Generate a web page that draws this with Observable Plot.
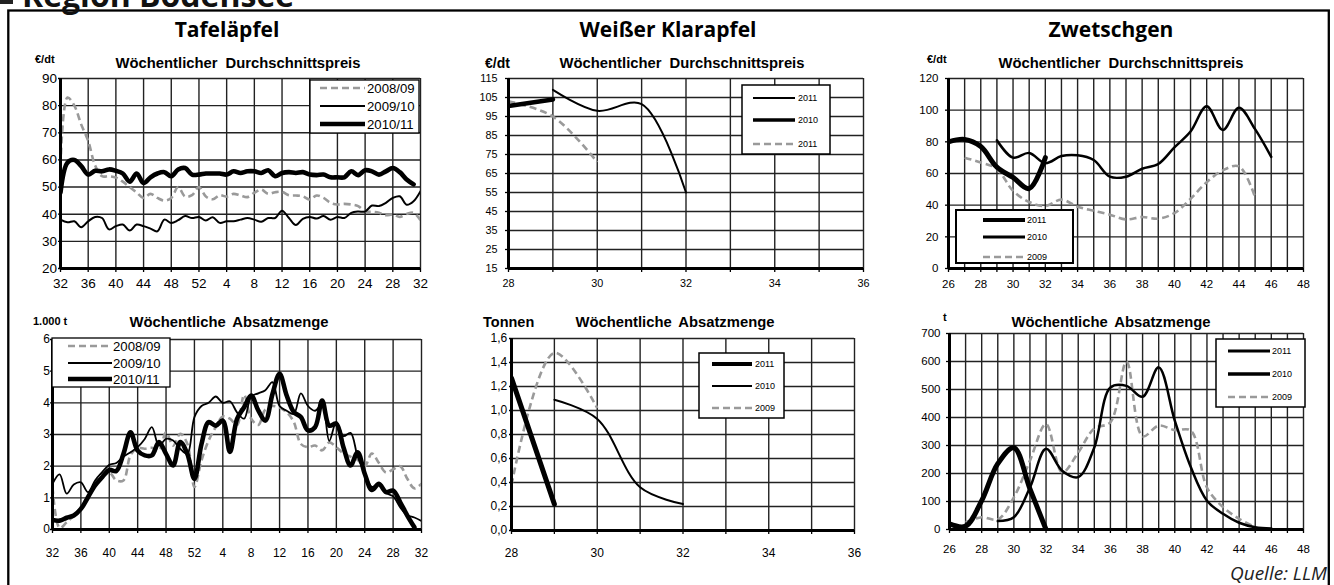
<!DOCTYPE html>
<html><head><meta charset="utf-8">
<script src="https://cdn.jsdelivr.net/npm/d3@7"></script>
<script src="https://cdn.jsdelivr.net/npm/@observablehq/plot@0.6"></script>
<style>
html,body{margin:0;padding:0;background:#fff;}
#root{position:relative;width:1334px;height:585px;overflow:hidden;background:#fff;}
#root svg{position:absolute;}
</style></head><body><div id="root"></div>
<script>
// ---------- DATA ----------
// Tafeläpfel: week positions 0..52 = KW 32 (2010) ... KW 32 (2011)
const tafelTicks = ["32","36","40","44","48","52","4","8","12","16","20","24","28","32"];
const tafelTickPos = [0,4,8,12,16,20,24,28,32,36,40,44,48,52];
const tafelPrice0809 = [58,83,80,73,67,58,54,54,53.5,52,50,48,46,47.5,46,45,46,50,46.5,47,50,46.5,45.5,47,46.5,47.5,46.9,46.3,47.9,49.1,47.5,48.1,48.2,47,46.9,46.6,45.4,46.9,46,44.2,43.6,43.8,43.6,43,41.1,40.9,40.5,39.6,39.9,39,40.1,40.5,37.8];
const tafelPrice0910 = [38,37,37.4,35.2,37.4,39,38.6,34.4,35.6,36.2,34,36.2,35.6,34.7,33.7,38,36.8,37.8,39.3,38.6,39,37.7,38.9,36.8,37.4,37.4,38,38.6,38,37.2,38.6,38.6,41.3,38.6,36,38.3,39,38.4,39.3,38,39,38.6,40.5,41,41,43.2,43,44.2,46,46.6,43.5,44.8,48.5];
const tafelPrice1011 = [48,59,60,57.7,54.6,56,55.8,56.5,56,55,52,55,51.5,53.6,55,55.5,54,56.5,57,54.6,54.6,55,55,55,54.6,55.8,55.2,55.8,55.8,55.2,56.2,54,55.2,55.5,55.2,55.5,54.6,54.4,54.6,53.6,53.6,53.6,55.8,54.4,56.2,55.8,54.6,55.8,57,55.5,52.8,51,null];
const tafelVol0809 = [1.34,0.05,0.23,0.44,0.7,1.07,1.44,1.76,1.81,1.55,1.55,2.35,2.57,2.55,2.58,2.49,3.07,2.65,3.02,2.71,1.34,2.18,2.81,3.23,3.57,3.5,3.3,4.25,3.5,3.3,3.8,3.9,3.85,3.7,3.4,2.7,2.6,2.65,2.5,2.75,2.6,2.4,2.3,2.2,2.0,2.4,2.1,1.8,1.9,2.0,1.6,1.3,1.45];
const tafelVol0910 = [1.44,1.74,1.13,1.42,1.49,1.18,1.55,1.81,2.04,2.1,2.3,2.44,2.6,2.86,3.23,2.65,2.86,2.81,2.55,2.39,3.55,3.9,4.0,4.2,4.0,4.05,3.7,3.5,4.2,4.3,4.4,4.65,3.9,3.75,3.65,4.3,3.9,3.75,3.95,2.8,3.4,2.95,3.05,2.3,1.8,1.35,1.4,1.15,1.05,0.7,0.45,0.38,0.27];
const tafelVol1011 = [0.3,0.28,0.37,0.44,0.65,1.02,1.39,1.65,1.88,1.85,2.39,3.07,2.49,2.34,2.34,2.76,2.39,2.02,2.76,2.39,1.6,2.7,3.39,3.28,3.44,2.45,3.49,3.86,4.23,3.76,3.44,4.28,4.92,4.23,3.71,3.55,3.13,3.23,4.07,3.28,3.34,2.6,2.02,2.44,1.76,1.25,1.44,1.18,1.23,0.86,0.44,0.07,null];
const tafelYTicksPrice = [20,30,40,50,60,70,80,90];
const tafelYTicksVol = [0,1,2,3,4,5,6];

// Weißer Klarapfel
const klarWeeks = [28,29,30,31,32,33,34,35,36];
const klarTickLabels = ["28","","30","","32","","34","","36"];
const klarPriceA_weeks = [29,30,31,32];
const klarPriceA = [109,98,101.5,55];        // "2011" thin
const klarPriceB_weeks = [28,29];
const klarPriceB = [100.5,104];              // "2010" thick
const klarPriceC_weeks = [28,29,30];
const klarPriceC = [103,95,71];              // "2011" dashed
const klarYTicksPrice = [15,25,35,45,55,65,75,85,95,105,115];
const klarVol2011_weeks = [28,29];
const klarVol2011 = [1.27,0.22];
const klarVol2010_weeks = [29,30,31,32];
const klarVol2010 = [1.09,0.93,0.36,0.22];
const klarVol2009_weeks = [28,29,30];
const klarVol2009 = [0.38,1.48,1.02];
const klarYTicksVol = [0,0.2,0.4,0.6,0.8,1.0,1.2,1.4,1.6];

// Zwetschgen
const zwWeeks = [26,27,28,29,30,31,32,33,34,35,36,37,38,39,40,41,42,43,44,45,46,47,48];
const zwTickLabels = ["26","","28","","30","","32","","34","","36","","38","","40","","42","","44","","46","","48"];
const zwPrice2011_weeks = [26,27,28,29,30,31,32];
const zwPrice2011 = [80,81.5,77,64,57.5,50.5,70];
const zwPrice2010_weeks = [29,30,31,32,33,34,35,36,37,38,39,40,41,42,43,44,45,46];
const zwPrice2010 = [81,70,73,66.5,71,71.5,68.5,58,58,63,66,76.5,86.5,102.5,87.5,101.5,88,70.5];
const zwPrice2009_weeks = [27,28,29,30,31,32,33,34,35,36,37,38,39,40,41,42,43,44,45];
const zwPrice2009 = [70,67,63,49,42,39.5,43.5,39,36.5,34,31,32.5,31.5,35,44,54.5,62,64.5,45];
const zwYTicksPrice = [0,20,40,60,80,100,120];
const zwVol2011_weeks = [26,27,28,29,30,31,32];
const zwVol2011 = [20,12,103,235,292,145,0];
const zwVol2010_weeks = [29,30,31,32,33,34,35,36,37,38,39,40,41,42,43,44,45,46];
const zwVol2010 = [30,44,150,288,210,187,293,507,513,474,579,389,222,103,56,24,8,4];
const zwVol2009_weeks = [27,28,29,30,31,32,33,34,35,36,37,38,39,40,41,42,43,44,45];
const zwVol2009 = [26,44,36,115,246,377,204,275,361,383,599,333,371,355,353,150,80,38,8];
const zwYTicksVol = [0,100,200,300,400,500,600,700];

// ---------- HELPERS ----------
const byIndex = arr => arr.map((v,i)=>({x:i,y:v})).filter(d=>d.y!=null);
const byWeeks = (w,arr) => w.map((x,i)=>({x, y:arr[i]}));
const THICK = {stroke:"#000", width:4.6};
const THIN = {stroke:"#000", width:2};
const DASH = {stroke:"#9a9a9a", width:2.6, dash:"7,4"};
const root = document.getElementById("root");

function drawPanel(c){
  const mL=50,mR=10,mT=10,mB=45;
  const marks = [
    Plot.gridX(c.xGrid,{stroke:"#222",strokeOpacity:1,strokeWidth:1.4}),
    Plot.gridY(c.yGrid,{stroke:"#222",strokeOpacity:1,strokeWidth:1.4})
  ];
  for(const s of c.series){
    marks.push(Plot.line(s.data,{x:"x",y:"y",stroke:s.st.stroke,strokeWidth:s.w||s.st.width,
      strokeDasharray:s.st.dash,curve:"catmull-rom",strokeLinejoin:"round",
      strokeLinecap:s.st.dash?"butt":"round",clip:true}));
  }
  marks.push(Plot.ruleX([c.xDomain[0]],{stroke:"#000",strokeWidth:3}));
  marks.push(Plot.ruleY([c.yDomain[0]],{stroke:"#000",strokeWidth:3}));
  marks.push(Plot.axisX(c.xTicks,{tickSize:4,tickPadding:c.xPad,tickFormat:c.xFmt,label:null,strokeWidth:1.3,fontSize:c.fs}));
  marks.push(Plot.axisY(c.yTicks,{tickSize:c.yTs,tickPadding:c.yPad,tickFormat:c.yFmt,label:null,strokeWidth:1.3,fontSize:c.fs}));
  const svg = Plot.plot({
    width:c.pw+mL+mR, height:c.ph+mT+mB,
    marginLeft:mL, marginRight:mR, marginTop:mT, marginBottom:mB,
    x:{domain:c.xDomain,label:null}, y:{domain:c.yDomain,label:null},
    style:{fontFamily:"'Liberation Sans', Arial, sans-serif",color:"#000",background:"transparent",overflow:"visible"},
    marks
  });
  svg.style.left=(c.px-mL)+"px"; svg.style.top=(c.py-mT)+"px";
  svg.style.maxWidth="none";
  root.appendChild(svg);
}

// ---------- PANELS ----------
drawPanel({px:60,py:78,pw:360,ph:190,xDomain:[0,52],yDomain:[20,90],
  xGrid:tafelTickPos,yGrid:tafelYTicksPrice,xTicks:tafelTickPos,xFmt:d=>tafelTicks[tafelTickPos.indexOf(d)],
  yTicks:tafelYTicksPrice,yFmt:d=>String(d),fs:13.5,xPad:6.3,yTs:2,yPad:1.5,
  series:[{data:byIndex(tafelPrice0809),st:DASH},{data:byIndex(tafelPrice0910),st:THIN},{data:byIndex(tafelPrice1011),st:THICK}]});
drawPanel({px:52,py:339,pw:369,ph:190,xDomain:[0,52],yDomain:[0,6],
  xGrid:tafelTickPos,yGrid:tafelYTicksVol,xTicks:tafelTickPos,xFmt:d=>tafelTicks[tafelTickPos.indexOf(d)],
  yTicks:tafelYTicksVol,yFmt:d=>String(d),fs:12,xPad:14.8,yTs:2,yPad:0.5,
  series:[{data:byIndex(tafelVol0809),st:DASH},{data:byIndex(tafelVol0910),st:THIN,w:1.8},{data:byIndex(tafelVol1011),st:THICK}]});
drawPanel({px:508,py:78,pw:355,ph:190,xDomain:[28,36],yDomain:[15,115],
  xGrid:klarWeeks,yGrid:klarYTicksPrice,xTicks:klarWeeks,xFmt:d=>klarTickLabels[klarWeeks.indexOf(d)],
  yTicks:klarYTicksPrice,yFmt:d=>String(d),fs:10.8,xPad:7.3,yTs:3,yPad:8,
  series:[{data:byWeeks(klarPriceC_weeks,klarPriceC),st:DASH},{data:byWeeks(klarPriceA_weeks,klarPriceA),st:THIN},{data:byWeeks(klarPriceB_weeks,klarPriceB),st:THICK}]});
drawPanel({px:511,py:338,pw:343,ph:192,xDomain:[28,36],yDomain:[0,1.6],
  xGrid:klarWeeks,yGrid:klarYTicksVol,xTicks:klarWeeks,xFmt:d=>klarTickLabels[klarWeeks.indexOf(d)],
  yTicks:klarYTicksVol,yFmt:d=>d.toFixed(1).replace(".",","),fs:12,xPad:13.5,yTs:2,yPad:2.3,
  series:[{data:byWeeks(klarVol2009_weeks,klarVol2009),st:DASH},{data:byWeeks(klarVol2010_weeks,klarVol2010),st:THIN},{data:byWeeks(klarVol2011_weeks,klarVol2011),st:THICK,w:5}]});
drawPanel({px:948,py:78,pw:355,ph:190,xDomain:[26,48],yDomain:[0,120],
  xGrid:zwWeeks,yGrid:zwYTicksPrice,xTicks:zwWeeks,xFmt:d=>zwTickLabels[zwWeeks.indexOf(d)],
  yTicks:zwYTicksPrice,yFmt:d=>String(d),fs:11.5,xPad:7,yTs:3,yPad:7,
  series:[{data:byWeeks(zwPrice2009_weeks,zwPrice2009),st:DASH},{data:byWeeks(zwPrice2010_weeks,zwPrice2010),st:THIN,w:2.5},{data:byWeeks(zwPrice2011_weeks,zwPrice2011),st:THICK,w:5}]});
drawPanel({px:949,py:333,pw:354,ph:196,xDomain:[26,48],yDomain:[0,700],
  xGrid:zwWeeks,yGrid:zwYTicksVol,xTicks:zwWeeks,xFmt:d=>zwTickLabels[zwWeeks.indexOf(d)],
  yTicks:zwYTicksVol,yFmt:d=>String(d),fs:11.5,xPad:11,yTs:3,yPad:6,
  series:[{data:byWeeks(zwVol2009_weeks,zwVol2009),st:DASH},{data:byWeeks(zwVol2010_weeks,zwVol2010),st:THIN,w:2.5},{data:byWeeks(zwVol2011_weeks,zwVol2011),st:THICK,w:5}]});

// ---------- OVERLAY: frame, titles, legends ----------
const ov = d3.create("svg").attr("width",1334).attr("height",585).style("left","0px").style("top","0px");
ov.append("rect").attr("x",8.3).attr("y",10.5).attr("width",1320.5).attr("height",640).attr("fill","none").attr("stroke","#000").attr("stroke-width",2.3);
ov.append("rect").attr("x",0).attr("y",0).attr("width",13).attr("height",4).attr("fill","#222");
const txt=(x,y,s,o={})=>ov.append("text").attr("x",x).attr("y",y).text(s)
  .attr("font-family",o.ff||"'Liberation Sans', Arial, sans-serif").attr("font-size",o.fs||13)
  .attr("font-weight",o.fw||"normal").attr("font-style",o.it?"italic":"normal")
  .attr("text-anchor",o.a||"start").attr("fill",o.fill||"#000").attr("word-spacing",o.ws||0);
txt(22,7,"Region Bodensee",{ff:"'Open Sans', sans-serif",fs:32,fw:"bold",fill:"#111"});
const tf={ff:"'Open Sans', sans-serif",fs:21,fw:"bold",a:"middle"};
txt(227,37,"Tafeläpfel",tf); txt(668,37,"Weißer Klarapfel",tf); txt(1111,37,"Zwetschgen",tf);
const sf={fs:14.8,fw:"bold",a:"middle",ws:4};
txt(238,68,"Wöchentlicher Durchschnittspreis",sf); txt(682,68,"Wöchentlicher Durchschnittspreis",sf); txt(1121,68,"Wöchentlicher Durchschnittspreis",sf);
const bf={fs:14.8,fw:"bold",a:"middle",ws:3};
txt(229,327,"Wöchentliche Absatzmenge",bf); txt(675,327,"Wöchentliche Absatzmenge",bf); txt(1111,327,"Wöchentliche Absatzmenge",bf);
txt(35,63,"€/dt",{fs:11,fw:"bold"}); txt(485,68,"€/dt",{fs:14,fw:"bold"}); txt(927,63,"€/dt",{fs:11,fw:"bold"});
txt(33,325,"1.000 t",{fs:11,fw:"bold"}); txt(483,327,"Tonnen",{fs:14.5,fw:"bold"}); txt(943,321,"t",{fs:11,fw:"bold"});
txt(1327,580,"Quelle: LLM",{ff:"'Open Sans', sans-serif",fs:19,it:true,a:"end",fill:"#222"});

function legend(bx,by,bw,bh,bsw,x1,x2,lx,ys,fs,entries){
  ov.append("rect").attr("x",bx).attr("y",by).attr("width",bw).attr("height",bh).attr("fill","#fff").attr("stroke","#000").attr("stroke-width",bsw);
  entries.forEach((e,i)=>{
    ov.append("line").attr("x1",x1).attr("x2",x2).attr("y1",ys[i]).attr("y2",ys[i])
      .attr("stroke",e.st.stroke).attr("stroke-width",e.w||e.st.width).attr("stroke-dasharray",e.st.dash||null);
    txt(lx,ys[i]+fs*0.36,e.label,{fs});
  });
}
legend(310,80,109,53,1.3,320,365,367,[88,106,124],13.2,[{label:"2008/09",st:DASH},{label:"2009/10",st:THIN},{label:"2010/11",st:THICK}]);
legend(52,338,118,49,1.3,68,112,113,[346,363,379],13.2,[{label:"2008/09",st:DASH},{label:"2009/10",st:THIN},{label:"2010/11",st:THICK}]);
legend(742,85,88,69,1.5,753,795,798,[98,120,144],9,[{label:"2011",st:THIN},{label:"2010",st:THICK,w:3.5},{label:"2011",st:DASH}]);
legend(699,353,85,65,1.5,712,752,755,[364,386,408],9,[{label:"2011",st:THICK,w:4},{label:"2010",st:THIN},{label:"2009",st:DASH}]);
legend(956,210,117,53,2,983,1025,1027,[220,237,257],9,[{label:"2011",st:THICK,w:4},{label:"2010",st:THICK,w:3.2},{label:"2009",st:DASH}]);
legend(1216,339,89,68,1.5,1228,1270,1272,[351,374,397],9,[{label:"2011",st:THIN,w:2.8},{label:"2010",st:THICK,w:3.4},{label:"2009",st:DASH}]);
root.appendChild(ov.node());
</script></body></html>
